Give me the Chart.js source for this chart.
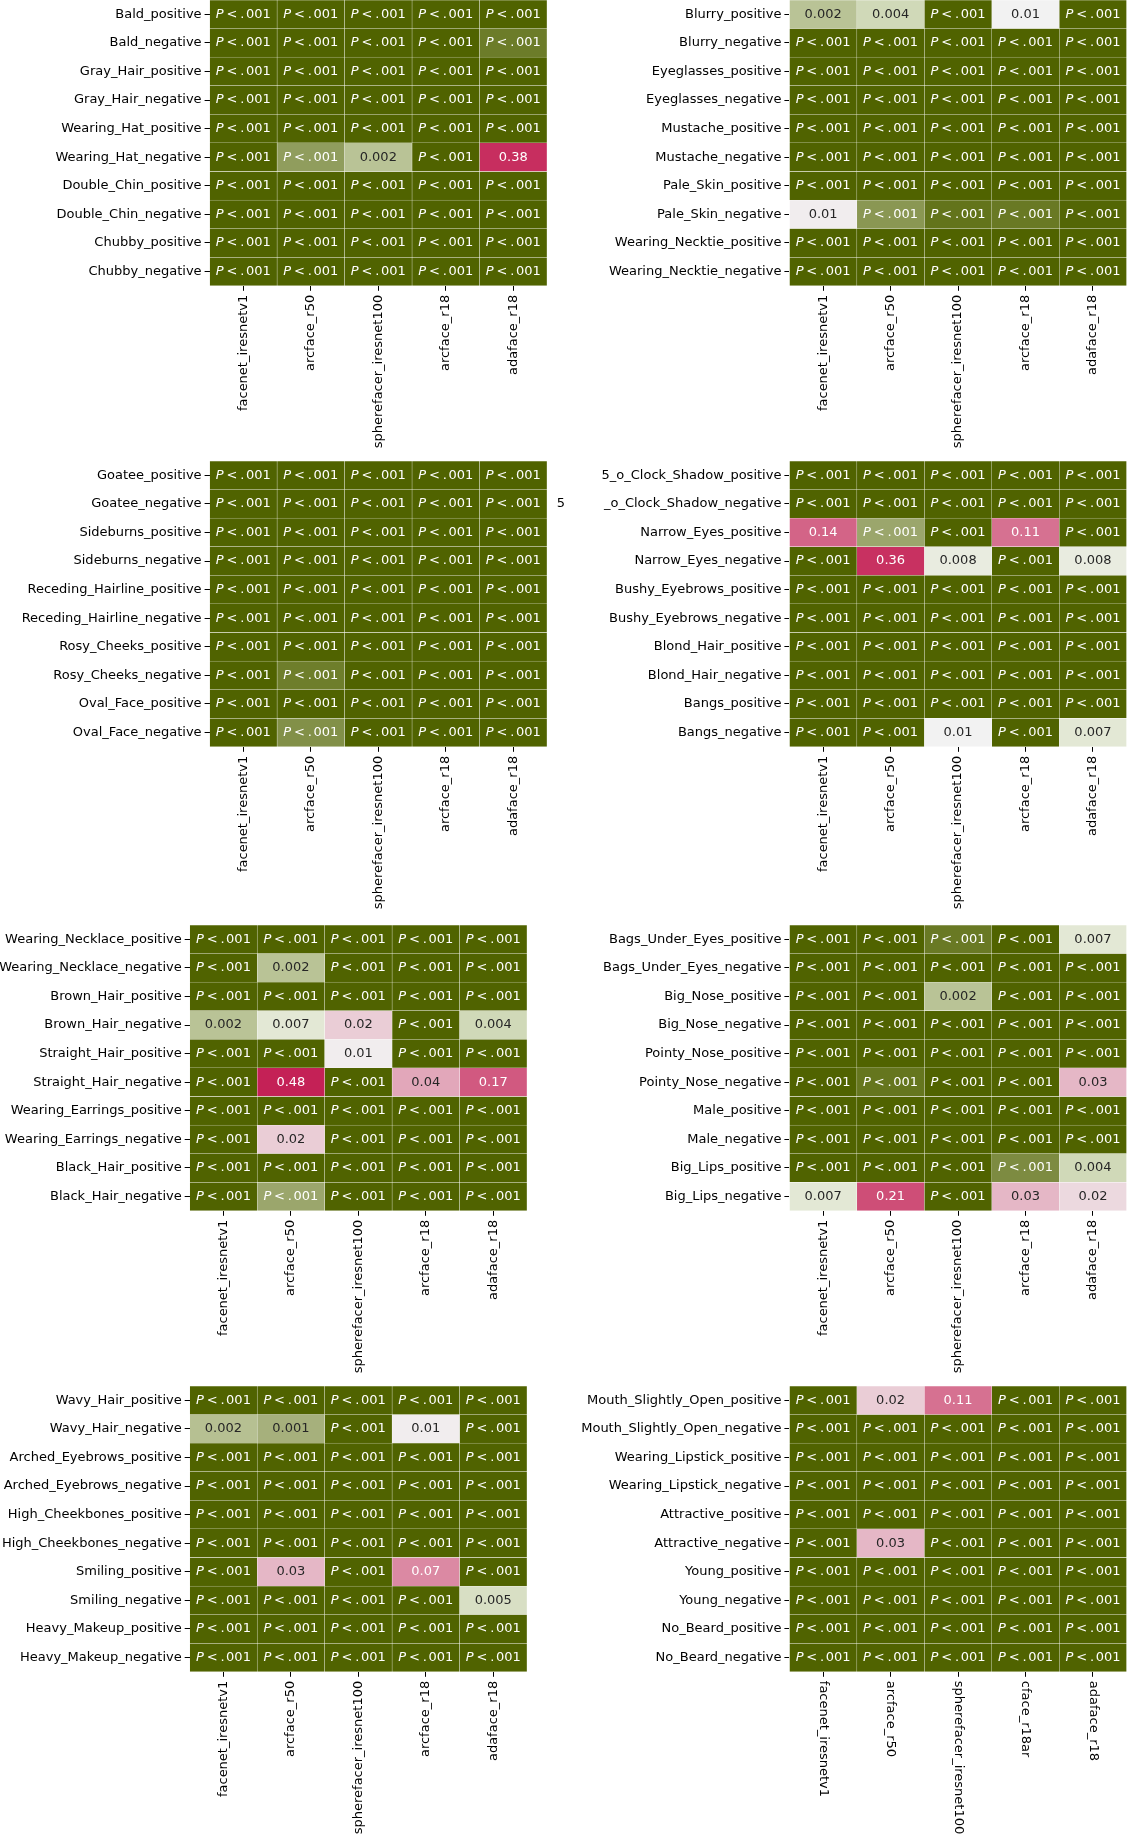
<!DOCTYPE html>
<html>
<head>
<meta charset="utf-8">
<script src="https://cdn.jsdelivr.net/npm/chart.js@4.4.1/dist/chart.umd.min.js"></script>
<style>
    body { margin: 0; background: #fff; width: 1129px; height: 1836px; position: relative; overflow: hidden; }
    canvas { position: absolute; }
</style>
</head>
<body>
<canvas id="c1"></canvas>
<canvas id="c2"></canvas>
<canvas id="c3"></canvas>
<canvas id="c4"></canvas>
<canvas id="c5"></canvas>
<canvas id="c6"></canvas>
<canvas id="c7"></canvas>
<canvas id="c8"></canvas>
<script>
// colonnes (modèles)
const models = ['facenet_iresnetv1', 'arcface_r50', 'spherefacer_iresnet100', 'arcface_r18', 'adaface_r18'];
const modelsLast = ['facenet_iresnetv1', 'arcface_r50', 'spherefacer_iresnet100', 'cface_r18ar', 'adaface_r18'];

// p-value estimée des cases les plus foncées (bien sous .001)
const D = 0.0001;

const rows1 = ['Bald_positive', 'Bald_negative', 'Gray_Hair_positive', 'Gray_Hair_negative', 'Wearing_Hat_positive',
    'Wearing_Hat_negative', 'Double_Chin_positive', 'Double_Chin_negative', 'Chubby_positive', 'Chubby_negative'];
const pvals1 = [
    [D, D, D, D, D],
    [D, D, D, D, 0.00022],
    [D, D, D, D, D],
    [D, D, D, D, D],
    [D, D, D, D, D],
    [D, 0.0006, 0.002, D, 0.38],
    [D, D, D, D, D],
    [D, D, D, D, D],
    [D, D, D, D, D],
    [D, D, D, D, D]
];

const rows2 = ['Blurry_positive', 'Blurry_negative', 'Eyeglasses_positive', 'Eyeglasses_negative', 'Mustache_positive',
    'Mustache_negative', 'Pale_Skin_positive', 'Pale_Skin_negative', 'Wearing_Necktie_positive', 'Wearing_Necktie_negative'];
const pvals2 = [
    [0.002, 0.004, D, 0.01, D],
    [D, D, D, D, D],
    [D, D, D, D, D],
    [D, D, D, D, D],
    [D, D, D, D, D],
    [D, D, D, D, D],
    [D, D, D, D, D],
    [0.011, 0.0005, 0.00017, 0.0002, 0.00011],
    [D, D, D, D, D],
    [D, D, D, D, D]
];

const rows3 = ['Goatee_positive', 'Goatee_negative', 'Sideburns_positive', 'Sideburns_negative', 'Receding_Hairline_positive',
    'Receding_Hairline_negative', 'Rosy_Cheeks_positive', 'Rosy_Cheeks_negative', 'Oval_Face_positive', 'Oval_Face_negative'];
const pvals3 = [
    [D, D, D, D, D],
    [D, D, D, D, D],
    [D, D, D, D, D],
    [D, D, D, D, D],
    [D, D, D, D, D],
    [D, D, D, D, D],
    [D, D, D, D, D],
    [D, 0.00023, D, D, D],
    [D, D, D, D, D],
    [D, 0.0004, D, D, D]
];

const rows4 = ['5_o_Clock_Shadow_positive', '_o_Clock_Shadow_negative', 'Narrow_Eyes_positive', 'Narrow_Eyes_negative', 'Bushy_Eyebrows_positive',
    'Bushy_Eyebrows_negative', 'Blond_Hair_positive', 'Blond_Hair_negative', 'Bangs_positive', 'Bangs_negative'];
const pvals4 = [
    [D, D, D, D, D],
    [D, D, D, D, D],
    [0.14, 0.0008, D, 0.11, D],
    [D, 0.36, 0.008, D, 0.008],
    [D, D, D, D, D],
    [D, D, D, D, D],
    [D, D, D, D, D],
    [D, D, D, D, D],
    [D, D, D, D, D],
    [D, D, 0.01, D, 0.007]
];

const rows5 = ['Wearing_Necklace_positive', 'Wearing_Necklace_negative', 'Brown_Hair_positive', 'Brown_Hair_negative', 'Straight_Hair_positive',
    'Straight_Hair_negative', 'Wearing_Earrings_positive', 'Wearing_Earrings_negative', 'Black_Hair_positive', 'Black_Hair_negative'];
const pvals5 = [
    [D, D, D, D, D],
    [D, 0.002, D, D, D],
    [D, D, D, D, D],
    [0.002, 0.007, 0.02, D, 0.004],
    [D, D, 0.011, D, D],
    [D, 0.48, D, 0.04, 0.17],
    [D, D, D, D, D],
    [D, 0.02, D, D, D],
    [D, D, D, D, D],
    [D, 0.0008, D, D, D]
];

const rows6 = ['Bags_Under_Eyes_positive', 'Bags_Under_Eyes_negative', 'Big_Nose_positive', 'Big_Nose_negative', 'Pointy_Nose_positive',
    'Pointy_Nose_negative', 'Male_positive', 'Male_negative', 'Big_Lips_positive', 'Big_Lips_negative'];
const pvals6 = [
    [D, D, 0.0002, D, 0.007],
    [D, D, D, D, D],
    [D, D, 0.002, D, D],
    [D, D, D, D, D],
    [D, D, D, D, D],
    [D, 0.00018, D, D, 0.03],
    [D, D, D, D, D],
    [D, D, D, D, D],
    [D, D, D, 0.00035, 0.004],
    [0.007, 0.21, D, 0.03, 0.016]
];

const rows7 = ['Wavy_Hair_positive', 'Wavy_Hair_negative', 'Arched_Eyebrows_positive', 'Arched_Eyebrows_negative', 'High_Cheekbones_positive',
    'High_Cheekbones_negative', 'Smiling_positive', 'Smiling_negative', 'Heavy_Makeup_positive', 'Heavy_Makeup_negative'];
const pvals7 = [
    [D, D, D, D, D],
    [0.0018, 0.0011, D, 0.011, D],
    [D, D, D, D, D],
    [D, D, D, D, D],
    [D, D, D, D, D],
    [D, D, D, D, D],
    [D, 0.03, D, 0.07, D],
    [D, D, D, D, 0.005],
    [D, D, D, D, D],
    [D, D, D, D, D]
];

const rows8 = ['Mouth_Slightly_Open_positive', 'Mouth_Slightly_Open_negative', 'Wearing_Lipstick_positive', 'Wearing_Lipstick_negative', 'Attractive_positive',
    'Attractive_negative', 'Young_positive', 'Young_negative', 'No_Beard_positive', 'No_Beard_negative'];
const pvals8 = [
    [D, 0.02, 0.11, D, D],
    [D, D, D, D, D],
    [D, D, D, D, D],
    [D, D, D, D, D],
    [D, D, D, D, D],
    [D, 0.03, D, D, D],
    [D, D, D, D, D],
    [D, D, D, D, D],
    [D, D, D, D, D],
    [D, D, D, D, D]
];

const FS = 13;
const FONT = '"DejaVu Sans"';
const HEAT_H = 285.8;

Chart.defaults.font.family = FONT;
Chart.defaults.font.size = FS;
Chart.defaults.color = '#000';

// palette : vert olive -> blanc -> framboise (échelle log)
// côté vert : quelques arrêts pour suivre la courbe de la palette d'origine
const GREEN_STOPS = [
    [0, [80, 99, 0]],
    [0.52, [166, 176, 124]],
    [0.65, [185, 195, 150]],
    [0.8, [208, 217, 184]],
    [0.92, [227, 232, 212]],
    [1, [242, 242, 242]]
];
const WHITE = [242, 242, 242], PINK = [196, 31, 84];
function clamp(t) { return Math.max(0, Math.min(1, t)); }
function mixRGB(a, b, t) { return a.map((v, i) => Math.round(v + (b[i] - v) * t)); }
function greenRGB(t) {
    for (let i = 1; i < GREEN_STOPS.length; i++) {
        const [t0, c0] = GREEN_STOPS[i - 1], [t1, c1] = GREEN_STOPS[i];
        if (t <= t1) return mixRGB(c0, c1, (t - t0) / (t1 - t0));
    }
    return WHITE;
}
function cellRGB(p) {
    const lp = Math.log10(p);
    if (lp < -2) return greenRGB(clamp((lp + 4) / 2));
    return mixRGB(WHITE, PINK, clamp((lp + 2) / (Math.log10(0.5) + 2)));
}
function rgbStr(c) { return 'rgb(' + c.join(',') + ')'; }
function luminance(c) {
    const lin = c.map(v => { v /= 255; return v <= 0.03928 ? v / 12.92 : Math.pow((v + 0.055) / 1.055, 2.4); });
    return 0.2126 * lin[0] + 0.7152 * lin[1] + 0.0722 * lin[2];
}
function fmt(p) {
    if (p < 0.001) return null;
    return p < 0.01 ? p.toFixed(3) : p.toFixed(2);
}

function drawSmallP(ctx, cx, cy) {
    ctx.textAlign = 'left';
    ctx.font = 'italic ' + FS + 'px ' + FONT;
    const wP = ctx.measureText('P').width;
    ctx.font = FS + 'px ' + FONT;
    const wL = ctx.measureText('<').width;
    const wDot = ctx.measureText('.').width;
    const w0 = ctx.measureText('001').width;
    const sp = FS * 0.22, sd = FS * 0.12;
    const total = wP + sp + wL + sp + wDot + sd + w0;
    let x0 = cx - total / 2;
    ctx.font = 'italic ' + FS + 'px ' + FONT;
    ctx.fillText('P', x0, cy);
    x0 += wP + sp;
    ctx.font = FS + 'px ' + FONT;
    ctx.fillText('<', x0, cy);
    x0 += wL + sp;
    ctx.fillText('.', x0, cy);
    x0 += wDot + sd;
    ctx.fillText('001', x0, cy);
}

function cellTextPlugin(cfg) {
    return {
        id: 'cellText',
        afterDatasetsDraw(chart) {
            const ctx = chart.ctx, xs = chart.scales.x, ys = chart.scales.y;
            ctx.save();
            ctx.textBaseline = 'middle';
            cfg.pvals.forEach((row, r) => {
                row.forEach((p, c) => {
                    const cx = xs.getPixelForValue(c + 0.5);
                    const cy = ys.getPixelForValue(r);
                    const col = cellRGB(p);
                    ctx.fillStyle = luminance(col) > 0.38 ? '#262626' : '#ffffff';
                    const txt = fmt(p);
                    if (txt === null) {
                        drawSmallP(ctx, cx, cy);
                    } else {
                        ctx.font = FS + 'px ' + FONT;
                        ctx.textAlign = 'center';
                        ctx.fillText(txt, cx, cy);
                    }
                });
            });
            if (cfg.stray) {
                // le "5" détaché du libellé 5_o_Clock_Shadow_negative
                ctx.fillStyle = '#000';
                ctx.font = FS + 'px ' + FONT;
                ctx.textAlign = 'center';
                ctx.fillText(cfg.stray, chart.chartArea.right + 14, ys.getPixelForValue(1));
            }
            if (cfg.flip) {
                // libellés tournés dans l'autre sens (lecture de haut en bas)
                ctx.fillStyle = '#000';
                ctx.font = FS + 'px ' + FONT;
                ctx.textAlign = 'left';
                cfg.cols.forEach((lab, i) => {
                    ctx.save();
                    ctx.translate(xs.getPixelForValue(i + 0.5), chart.chartArea.bottom + 9);
                    ctx.rotate(Math.PI / 2);
                    ctx.fillText(lab, 0, 0);
                    ctx.restore();
                });
            }
            ctx.restore();
        }
    };
}

function makePanel(cfg) {
    const canvas = document.getElementById(cfg.id);
    canvas.width = cfg.w;
    canvas.height = cfg.h;
    canvas.style.left = cfg.left + 'px';
    canvas.style.top = cfg.top + 'px';

    const datasets = cfg.cols.map((name, c) => ({
        label: name,
        data: cfg.rows.map(() => 1),
        backgroundColor: cfg.pvals.map(row => rgbStr(cellRGB(row[c]))),
        borderColor: 'rgba(255,255,255,0.18)',
        borderWidth: 0.5,
        borderSkipped: false,
        barPercentage: 1,
        categoryPercentage: 1
    }));

    new Chart(canvas, {
        type: 'bar',
        data: { labels: cfg.rows, datasets: datasets },
        options: {
            indexAxis: 'y',
            responsive: false,
            animation: false,
            devicePixelRatio: 1,
            layout: { padding: { left: 0, top: cfg.padTop || 0, bottom: 0, right: cfg.w - cfg.heatRight } },
            plugins: { legend: { display: false }, tooltip: { enabled: false } },
            scales: {
                x: {
                    stacked: true,
                    min: 0,
                    max: 5,
                    afterBuildTicks: ax => { ax.ticks = cfg.cols.map((_, i) => ({ value: i + 0.5 })); },
                    afterFit: ax => { ax.height = cfg.h - HEAT_H - (cfg.padTop || 0); ax.paddingLeft = 0; ax.paddingRight = 0; },
                    grid: { drawOnChartArea: false, tickLength: 5, tickColor: '#000', tickWidth: 1 },
                    border: { display: false },
                    ticks: {
                        autoSkip: false,
                        minRotation: 90,
                        maxRotation: 90,
                        padding: 4,
                        color: cfg.flip ? 'rgba(0,0,0,0)' : '#000',
                        callback: (v, i) => cfg.cols[i]
                    }
                },
                y: {
                    stacked: true,
                    offset: true,
                    afterFit: ax => { ax.width = cfg.heatLeft; ax.paddingTop = 0; ax.paddingBottom = 0; },
                    grid: { offset: false, drawOnChartArea: false, tickLength: 5, tickColor: '#000', tickWidth: 1 },
                    border: { display: false },
                    ticks: { autoSkip: false, padding: 3, color: '#000' }
                }
            }
        },
        plugins: [cellTextPlugin(cfg)]
    });
}

makePanel({ id: 'c1', left: 0, top: 0, w: 575, h: 462, heatLeft: 209.6, heatRight: 547, rows: rows1, pvals: pvals1, cols: models });
makePanel({ id: 'c2', left: 575, top: 0, w: 554, h: 462, heatLeft: 214.4, heatRight: 551.7, rows: rows2, pvals: pvals2, cols: models });
makePanel({ id: 'c3', left: 0, top: 461, w: 575, h: 462, heatLeft: 209.6, heatRight: 547, rows: rows3, pvals: pvals3, cols: models, stray: '5' });
makePanel({ id: 'c4', left: 575, top: 461, w: 554, h: 462, heatLeft: 214.4, heatRight: 551.7, rows: rows4, pvals: pvals4, cols: models });
makePanel({ id: 'c5', left: 0, top: 925, w: 575, h: 462, heatLeft: 189.7, heatRight: 527, rows: rows5, pvals: pvals5, cols: models });
makePanel({ id: 'c6', left: 575, top: 925, w: 554, h: 462, heatLeft: 214.4, heatRight: 551.7, rows: rows6, pvals: pvals6, cols: models });
makePanel({ id: 'c7', left: 0, top: 1386, w: 575, h: 450, heatLeft: 189.7, heatRight: 527, rows: rows7, pvals: pvals7, cols: models });
makePanel({ id: 'c8', left: 575, top: 1386, w: 554, h: 450, heatLeft: 214.4, heatRight: 551.7, rows: rows8, pvals: pvals8, cols: modelsLast, flip: true });
</script>
</body>
</html>
